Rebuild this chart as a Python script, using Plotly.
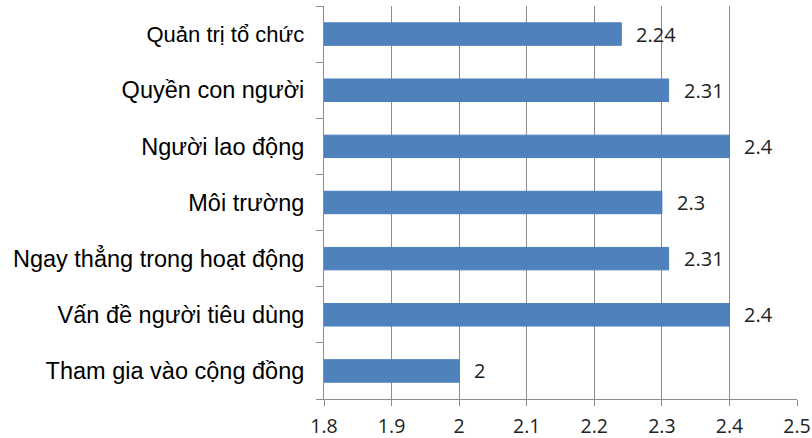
import plotly.graph_objects as go

categories = ["Tham gia vào cộng đồng", "Vấn đề người tiêu dùng", "Ngay thẳng trong hoạt động",
              "Môi trường", "Người lao động", "Quyền con người", "Quản trị tổ chức"]
values = [2.0, 2.4, 2.31, 2.3, 2.4, 2.31, 2.24]
value_labels = ["2", "2.4", "2.31", "2.3", "2.4", "2.31", "2.24"]
x_ticks = [1.8, 1.9, 2.0, 2.1, 2.2, 2.3, 2.4, 2.5]
x_tick_labels = ["1.8", "1.9", "2", "2.1", "2.2", "2.3", "2.4", "2.5"]
axis_min = 1.8

font_family = "Open Sans, Liberation Sans, sans-serif"
label_family = "Liberation Sans, Arial, sans-serif"

tick_text = [c if c != "Quản trị tổ chức" else '<span style="font-size:22px">' + c + "</span>"
             for c in categories]

fig = go.Figure()
fig.add_trace(go.Bar(
    y=categories, x=[v - axis_min for v in values], base=axis_min, orientation="h",
    marker=dict(color="#4f81bd", line=dict(color="#4a7ebb", width=1)),
    width=0.4,
))

for c, v, t in zip(categories, values, value_labels):
    fig.add_annotation(x=v, y=c, text=t, showarrow=False, xanchor="left", xshift=13,
                       font=dict(size=20, color="#222", family=font_family))

fig.update_layout(
    width=812, height=438,
    margin=dict(l=324, r=15, t=6, b=39),
    plot_bgcolor="white", paper_bgcolor="white",
    showlegend=False,
    font=dict(family=font_family, color="#111"),
)
fig.update_xaxes(range=[1.8, 2.5], tickvals=x_ticks, ticktext=x_tick_labels,
                 showgrid=True, gridcolor="#8c8c8c", gridwidth=1,
                 showline=True, linecolor="#8c8c8c", linewidth=1,
                 ticks="outside", ticklen=6, tickcolor="#8c8c8c",
                 ticklabelstandoff=4, automargin=False,
                 tickfont=dict(size=19.5, color="#222"), zeroline=False)
fig.update_yaxes(categoryorder="array", categoryarray=categories,
                 tickvals=categories, ticktext=tick_text,
                 showline=True, linecolor="#8c8c8c", linewidth=1,
                 ticks="outside", tickson="boundaries", ticklen=7, tickcolor="#8c8c8c",
                 ticklabelstandoff=14, automargin=False,
                 tickfont=dict(size=23.5, color="#000", family=label_family), showgrid=False)

fig.write_html("out.html")
